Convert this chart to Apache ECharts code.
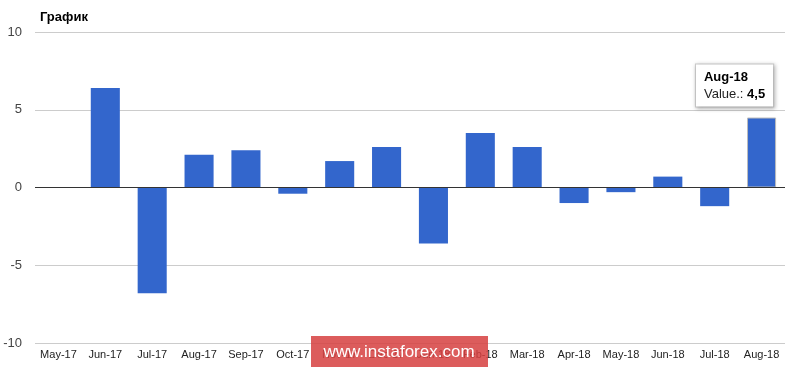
<!DOCTYPE html>
<html><head><meta charset="utf-8">
<script src="https://cdn.jsdelivr.net/npm/echarts@6/dist/echarts.min.js"></script>
<style>html,body{margin:0;padding:0;background:#fff}#c{width:800px;height:367px}</style>
</head><body><div id="c"></div>
<script>
const categories = ['May-17','Jun-17','Jul-17','Aug-17','Sep-17','Oct-17','Nov-17','Dec-17','Jan-18','Feb-18','Mar-18','Apr-18','May-18','Jun-18','Jul-18','Aug-18'];
const values = [null, 6.4, -6.8, 2.1, 2.4, -0.4, 1.7, 2.6, -3.6, 3.5, 2.6, -1.0, -0.3, 0.7, -1.2, 4.5];
const yTicks = [-10, -5, 0, 5, 10];
const title = 'График';
const highlightIndex = 15;

const data = values.map((v, i) => {
  if (i !== highlightIndex) return v;
  return {
    value: v,
    itemStyle: { borderColor: '#bbb', borderWidth: 1 },
    label: {
      show: true, position: 'top', offset: [-27, -6],
      backgroundColor: '#fff', borderColor: '#ccc', borderWidth: 1,
      shadowColor: 'rgba(0,0,0,0.25)', shadowBlur: 4, shadowOffsetX: 1, shadowOffsetY: 1,
      padding: [4, 8, 4, 8], align: 'center',
      formatter: () => '{b|' + categories[i] + '}\n{n|Value.: }{b|' + String(v).replace('.', ',') + '}',
      rich: {
        b: { fontFamily: 'Liberation Sans', fontSize: 13, fontWeight: 'bold', color: '#000', lineHeight: 17, align: 'left' },
        n: { fontFamily: 'Liberation Sans', fontSize: 13, color: '#222', lineHeight: 17, align: 'left' }
      }
    }
  };
});

const chart = echarts.init(document.getElementById('c'), null, { renderer: 'canvas' });
chart.setOption({
  animation: false,
  backgroundColor: '#fff',
  title: { text: title, left: 35, top: 6, textStyle: { fontFamily: 'Liberation Sans', fontSize: 13, fontWeight: 'bold', color: '#000' } },
  grid: { left: 35, right: 15, top: 32, bottom: 24 },
  xAxis: {
    type: 'category', data: categories,
    axisLine: { show: false, onZero: false }, axisTick: { show: false },
    axisLabel: { fontFamily: 'Liberation Sans', fontSize: 11, color: '#222', margin: 6, interval: 0 }
  },
  yAxis: {
    type: 'value', min: yTicks[0], max: yTicks[yTicks.length - 1], interval: 5,
    axisLine: { show: false }, axisTick: { show: false },
    axisLabel: { fontFamily: 'Liberation Sans', fontSize: 13, color: '#444', margin: 13 },
    splitLine: { lineStyle: { color: '#ccc', width: 1 } }
  },
  series: [{
    type: 'bar', data: data, barWidth: '62%',
    itemStyle: { color: '#3366cc' },
    markLine: { silent: true, symbol: 'none', label: { show: false }, lineStyle: { color: '#333', width: 1, type: 'solid' }, data: [{ yAxis: 0 }] }
  }],
  graphic: [{
    type: 'group', left: 311, top: 336, z: 200,
    children: [
      { type: 'rect', z: 200, shape: { x: 0, y: 0, width: 177, height: 31 }, style: { fill: 'rgba(214,64,64,0.85)' } },
      { type: 'text', z: 201, x: 88, y: 16, style: { text: 'www.instaforex.com', fill: '#fff', font: '17px "Liberation Sans"', textAlign: 'center', textVerticalAlign: 'middle' } }
    ]
  }]
});
</script></body></html>
